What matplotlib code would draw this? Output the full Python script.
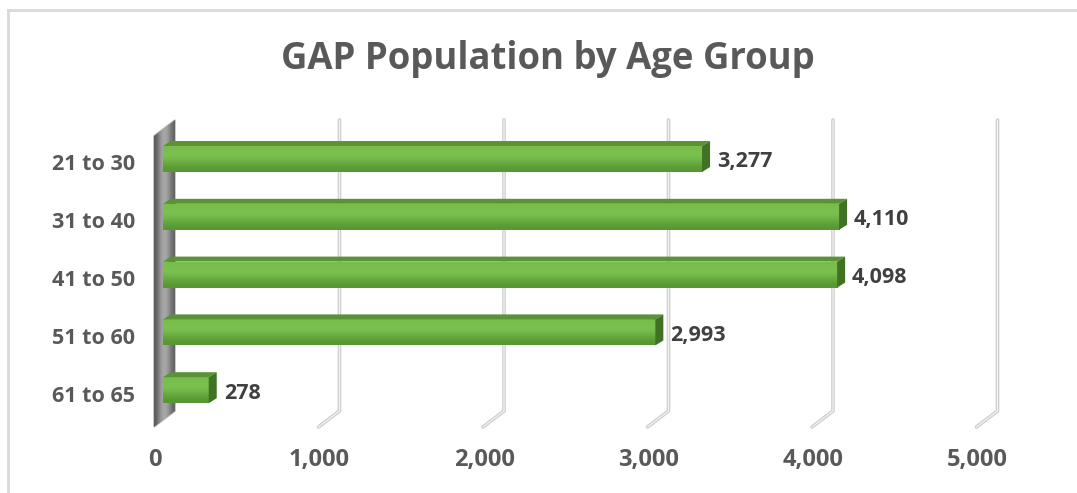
import matplotlib
matplotlib.use("Agg")
import matplotlib.pyplot as plt
from matplotlib.patches import Polygon
import numpy as np

# data
groups = ["21 to 30", "31 to 40", "41 to 50", "51 to 60", "61 to 65"]
counts = [3277, 4110, 4098, 2993, 278]
ticks = [0, 1000, 2000, 3000, 4000, 5000]
title = "GAP Population by Age Group"

W, H = 1077, 493
fig = plt.figure(figsize=(W / 100, H / 100), dpi=100)
ax = fig.add_axes([0, 0, 1, 1])
ax.axis("off")

# pixel layout: value 0 sits at x=163, 1000 units ~ 164.5 px; rows 57.8 px apart
x0_px, px_per_unit = 163, 0.1645
y0_px, px_per_row = 159, 57.8
ax.set_xlim(-x0_px / px_per_unit, (W - x0_px) / px_per_unit)
ax.set_ylim((H - y0_px) / px_per_row, -y0_px / px_per_row)


def dxp(px):
    return px / px_per_unit


def dyp(px):
    return px / px_per_row


font = "Open Sans"
grey = "#595959"

# back wall / gridlines geometry (back plane +12px, front plane -9px)
back, front = dxp(12), dxp(-9)
y_top, y_bot, y_foot = dyp(120 - y0_px), dyp(411 - y0_px), dyp(427 - y0_px)

for t in ticks[1:]:
    xs = [t + back, t + back, t + front]
    ys = [y_top, y_bot, y_foot]
    ax.plot(xs, ys, color="#cdcdcd", lw=2.6, solid_capstyle="round", zorder=1)
    ax.plot(xs, ys, color="#f2f2f2", lw=0.9, solid_capstyle="round", zorder=1)

# grey side wall
wall = Polygon([(back, y_top), (back, y_bot), (front, y_foot), (front, y_top + dyp(16))],
               closed=True, facecolor="none", edgecolor="#bdbdbd", lw=1.2, zorder=2)
ax.add_patch(wall)
grad = np.array([[0.28, 0.50, 0.58, 0.50, 0.32]])
im = ax.imshow(grad, cmap="Greys_r", vmin=0, vmax=1, aspect="auto",
               extent=(front, back, y_foot, y_top), zorder=2, interpolation="bicubic")
im.set_clip_path(wall)

# bars: front face gradient, top face and side face for the 3D look
bar_h = dyp(26)
ddx, ddy = dxp(8), dyp(-5)
bars = ax.barh(range(len(groups)), counts, height=bar_h, left=0,
               color="none", edgecolor="none", zorder=3)
green = np.array([[0.47, 0.74, 0.30], [0.49, 0.77, 0.32], [0.42, 0.68, 0.26], [0.34, 0.59, 0.20]])
for i, (b, v) in enumerate(zip(bars, counts)):
    yt, yb = i - bar_h / 2, i + bar_h / 2
    img = ax.imshow(green.reshape(4, 1, 3), aspect="auto", extent=(0, v, yb, yt),
                    zorder=3, interpolation="bicubic")
    img.set_clip_path(b)
    ax.add_patch(Polygon([(0, yt), (v, yt), (v + ddx, yt + ddy), (ddx, yt + ddy)],
                         closed=True, facecolor="#5a9238", edgecolor="none", zorder=3))
    ax.add_patch(Polygon([(v, yt), (v, yb), (v + ddx, yb + ddy), (v + ddx, yt + ddy)],
                         closed=True, facecolor="#3f7323", edgecolor="none", zorder=3))
    ax.text(v + dxp(15), i + dyp(3), f"{v:,}", ha="left", va="center",
            fontsize=15.5, fontweight="bold", color="#404040", family=font, zorder=4)
    ax.text(dxp(-28), i + dyp(6), groups[i], ha="right", va="center",
            fontsize=15.5, fontweight="bold", color=grey, family=font)

for t in ticks:
    ax.text(t + dxp(-8), dyp(460 - y0_px), f"{t:,}", ha="center", va="center",
            fontsize=17, fontweight="bold", color=grey, family=font)

fig.text(548 / W, 1 - 59 / H, title, ha="center", va="center",
         fontsize=26.3, fontweight="bold", color=grey, family=font)

# light chart border (top and left visible)
fig.add_artist(plt.Line2D([8 / W, 8 / W], [0, 1 - 9.5 / H], transform=fig.transFigure,
                          color="#d9d9d9", lw=2))
fig.add_artist(plt.Line2D([8 / W, 1], [1 - 9.5 / H, 1 - 9.5 / H], transform=fig.transFigure,
                          color="#d9d9d9", lw=2))

fig.savefig("out.png", dpi=100, facecolor="white")
